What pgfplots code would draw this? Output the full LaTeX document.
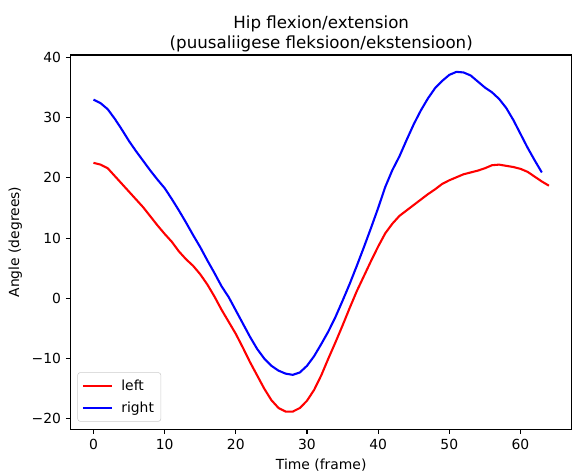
\documentclass[border=0pt]{standalone}
\usepackage{fontspec}
\setmainfont{DejaVu Sans}
\usepackage{pgfplots}
\pgfplotsset{compat=1.18}
\begin{document}
\begin{tikzpicture}
\begin{axis}[
  width=360.7pt, height=269.3pt, scale only axis,
  xmin=-3.2, xmax=67.2, ymin=-21.7, ymax=40.4,
  xtick={0,10,20,30,40,50,60},
  ytick={-20,-10,0,10,20,30,40},
  yticklabels={−20,−10,0,10,20,30,40},
  /pgf/number format/assume math mode=true,
  tick align=outside, tick pos=left,
  major tick length=3.5pt,
  tick style={black, line width=0.8pt},
  axis line style={line width=0.8pt},
  ticklabel style={font=\fontsize{10}{12}\selectfont},
  title={Hip flexion/extension\\(puusaliigese fleksioon/ekstensioon)},
  title style={align=center, font=\fontsize{12}{14.4}\selectfont, yshift=-7pt},
  xlabel={Time (frame)}, ylabel={Angle (degrees)},
  label style={font=\fontsize{10}{12}\selectfont},
  legend cell align=left,
  legend style={draw=black!20, rounded corners=2pt, font=\fontsize{10}{12}\selectfont,
    at={(0.0132,0.0197)}, anchor=south west, inner xsep=3pt, inner ysep=3pt, row sep=3pt,
    /tikz/every odd column/.append style={column sep=4pt}},
  legend image code/.code={\draw[#1] plot coordinates {(0pt,0pt) (21pt,0pt)};},
]
\addplot[red, line width=1.5pt] coordinates {
(0,22.5)(1,22.2)(2,21.6)(3,20.3)(4,19.0)(5,17.7)(6,16.4)(7,15.1)(8,13.6)(9,12.1)
(10,10.7)(11,9.4)(12,7.8)(13,6.5)(14,5.4)(15,4.0)(16,2.3)(17,0.3)(18,-1.9)(19,-3.9)
(20,-5.9)(21,-8.2)(22,-10.6)(23,-12.8)(24,-15.0)(25,-16.9)(26,-18.2)(27,-18.8)(28,-18.8)(29,-18.2)
(30,-17.0)(31,-15.2)(32,-12.8)(33,-10.0)(34,-7.3)(35,-4.5)(36,-1.6)(37,1.2)(38,3.7)(39,6.2)
(40,8.6)(41,10.8)(42,12.4)(43,13.7)(44,14.6)(45,15.5)(46,16.4)(47,17.3)(48,18.1)(49,19.0)
(50,19.6)(51,20.1)(52,20.6)(53,20.9)(54,21.2)(55,21.6)(56,22.1)(57,22.2)(58,22.0)(59,21.8)
(60,21.5)(61,21.0)(62,20.2)(63,19.4)(64,18.7)
};
\addlegendentry{left}
\addplot[blue, line width=1.5pt] coordinates {
(0,33.0)(1,32.4)(2,31.4)(3,29.8)(4,28.0)(5,26.1)(6,24.4)(7,22.8)(8,21.2)(9,19.7)
(10,18.3)(11,16.5)(12,14.6)(13,12.6)(14,10.5)(15,8.5)(16,6.3)(17,4.2)(18,2.0)(19,0.2)
(20,-2.0)(21,-4.2)(22,-6.4)(23,-8.4)(24,-10.0)(25,-11.2)(26,-12.0)(27,-12.5)(28,-12.7)(29,-12.3)
(30,-11.2)(31,-9.6)(32,-7.6)(33,-5.5)(34,-3.1)(35,-0.4)(36,2.4)(37,5.4)(38,8.5)(39,11.7)
(40,15.0)(41,18.5)(42,21.3)(43,23.6)(44,26.3)(45,28.9)(46,31.2)(47,33.2)(48,34.9)(49,36.1)
(50,37.1)(51,37.6)(52,37.5)(53,37.0)(54,36.0)(55,35.0)(56,34.2)(57,33.1)(58,31.6)(59,29.6)
(60,27.3)(61,25.0)(62,22.9)(63,20.9)
};
\addlegendentry{right}
\end{axis}
\pgfresetboundingbox
\path ([shift={(-50.9pt,-32.4pt)}]current axis.south west) rectangle ([shift={(0.2pt,39.6pt)}]current axis.north east);
\end{tikzpicture}
\end{document}
